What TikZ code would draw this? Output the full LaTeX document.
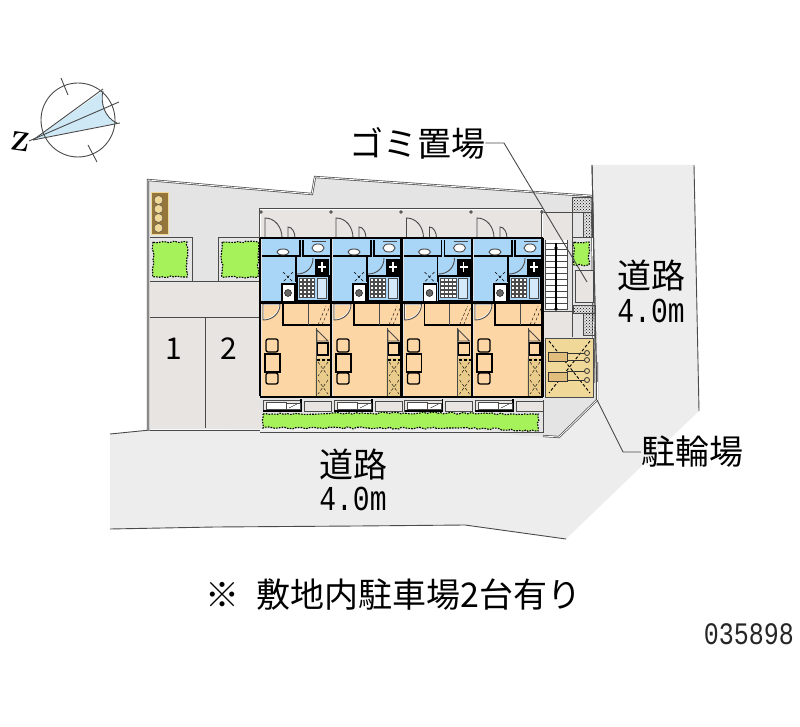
\documentclass[tikz,border=0pt]{standalone}
\usepackage{fontspec}
\newfontfamily\jpfont{Noto Sans CJK JP}
\newfontfamily\numfont{Liberation Mono}
\usetikzlibrary{patterns,decorations.pathmorphing}
\definecolor{roadgrey}{HTML}{EDEDED}
\definecolor{yardgrey}{HTML}{E4E4E4}
\definecolor{floorgrey}{HTML}{E7E4E1}
\definecolor{wetblue}{HTML}{A9D5F6}
\definecolor{roomorange}{HTML}{FDD6A6}
\definecolor{racktan}{HTML}{F0D898}
\definecolor{rackbrown}{HTML}{96753A}
\definecolor{plantgreen}{HTML}{A6F25A}
\definecolor{comparea}{HTML}{CFE8F6}
\definecolor{linegrey}{HTML}{4A4A4A}
\tikzset{
	sitewall/.style={draw=linegrey,line width=0.7pt,double=white,double distance=0.8pt},
	thinline/.style={draw=linegrey,line width=0.9pt},
	wall/.style={draw=black,line width=2.6pt},
	inwall/.style={draw=black,line width=1.3pt},
	planting/.style={fill=plantgreen,draw=black,line width=1.1pt,dash pattern=on 1.6pt off 1.2pt,decorate,decoration={random steps,segment length=3pt,amplitude=1pt}},
	gravel/.style={pattern=crosshatch dots,pattern color=black,draw=linegrey,line width=0.5pt},
	labeltext/.style={font=\jpfont\fontsize{34}{34}\selectfont,inner sep=0pt},
	widthtext/.style={font=\numfont\fontsize{28}{28}\selectfont,inner sep=0pt},
}
\begin{document}
\begin{tikzpicture}[x=1pt,y=-1pt]
	\useasboundingbox (0,0) rectangle (800,727);
	\fill[roadgrey] (592,165) -- (694,165) -- (699,411) -- (566,539) -- (465,525) -- (357,526) -- (215,527) -- (110,529) -- (110,434) -- (150,430) -- (473,429) -- (520,436) -- (560,437) -- (597,402) -- cycle;
	\draw[thinline] (592,165) -- (597,400);
	\draw[thinline] (694,165) -- (699,411);
	\draw[thinline] (110,434) -- (150,430);
	\draw[thinline] (110,529) -- (215,527) -- (357,526) -- (465,525) -- (566,539);
	\fill[yardgrey] (149,179) -- (312,194) -- (315,177) -- (592,196) -- (596,400) -- (559,437) -- (520,436) -- (473,429) -- (149,429) -- cycle;
	\fill[floorgrey] (150,282) rectangle (260,428);
	\fill[floorgrey] (260,209) rectangle (544,238);
	\draw[sitewall] (148,430) -- (148,180) -- (312,194) -- (315,177) -- (592,196) -- (594,383);
	\draw[sitewall] (597,362) -- (597,400) -- (559,437) -- (543,436);
	\draw[thinline] (150,430) -- (260,430);
	\draw[thinline] (150,281) -- (260,281);
	\draw[thinline] (150,317) -- (260,317);
	\draw[thinline] (205,317) -- (205,428);
	\draw[sitewall] (260,238) -- (260,209) -- (542,209) -- (542,238);
	\draw[thinline] (260,432) -- (543,432) -- (543,400);
	\foreach \px in {261,331,401,471,542}
		\draw[thinline,fill=white] (\px,212) circle (1.3);
	\draw[racktan,fill=rackbrown,line width=1pt] (151,193) rectangle (168,235);
	\foreach \py in {200,209,218,228}
		\draw[black!70,fill=racktan] (158.5,\py) circle (4.4);
	\draw[thinline] (150,237) -- (192,237) -- (192,282);
	\draw[thinline] (218,282) -- (218,237) -- (260,237);
	\draw[planting] (153,242) rectangle (187,277);
	\draw[planting] (222,242) rectangle (258,277);
	\foreach \ux in {260,331,401.5,472}
	{
		\begin{scope}[shift={(\ux,0)}]
			\fill[wetblue] (2,239) rectangle (70,302);
			\fill[roomorange] (2,303) rectangle (70,396);
			\fill[racktan!85!brown] (55,358) rectangle (70,396);
			\draw[thinline] (5,238) -- (5,218) .. controls (15,218) and (22,227) .. (22,238);
			\draw[thinline] (28,238) -- (28,227) .. controls (32,227) and (35,232) .. (35,238);
			\draw[inwall] (2,256) -- (40,256) -- (40,240);
			\draw[inwall] (43,240) -- (43,256) -- (70,256);
			\draw[thinline] (52,241) -- (66,241);
			\draw[thinline,fill=white] (58,248) ellipse (6 and 4);
			\draw[thinline,fill=white] (23,252) ellipse (6 and 3);
			\draw[inwall] (36,256) -- (36,282);
			\draw[thinline] (37,274) .. controls (46,274) and (53,268) .. (53,258);
			\fill[black] (55,259) rectangle (69,275);
			\draw[white,line width=1.2pt] (58,267) -- (66,267);
			\draw[white,line width=1.2pt] (62,262) -- (62,272);
			\draw[black,densely dashed] (23,272) -- (33,282);
			\draw[black,densely dashed] (33,272) -- (23,282);
			\draw[inwall,fill=white] (22,284) rectangle (35,302);
			\draw[black,fill=black!60] (28,293) circle (3.5);
			\draw[inwall] (37,276) rectangle (69,301);
			\foreach \gx in {39,43,47,51}
				\foreach \gy in {278,282,286,290,294}
					\draw[black!70,fill=white,line width=0.3pt] (\gx,\gy) rectangle ++(3.4,3.4);
			\draw[thinline,fill=wetblue!50] (57,278) rectangle (66,298);
			\draw[inwall] (23,304) -- (23,325) -- (70,325);
			\draw[thinline] (48,304) -- (48,325);
			\draw[thinline,fill=white] (3,320) .. controls (13,320) and (20,313) .. (20,304) -- (3,304) -- cycle;
			\fill[roomorange] (4,319) .. controls (12,318) and (19,312) .. (19,305) -- (4,305) -- cycle;
			\draw[black,densely dashed] (58,325) -- (66,306);
			\draw[black,densely dashed] (62,325) -- (70,306);
			\draw[thinline] (57,330) -- (68,341) -- (57,341) -- cycle;
			\draw[inwall] (57,343) rectangle (68,355);
			\draw[inwall,densely dashed] (57,360) -- (70,360);
			\foreach \zy in {362,380}
			{
				\draw[black,densely dashed] (58,\zy) -- (68,\zy+14);
				\draw[black,densely dashed] (68,\zy) -- (58,\zy+14);
			}
			\draw[thinline] (56,328) -- (56,396);
			\draw[inwall,rounded corners=2pt] (6,339) rectangle (18,352);
			\draw[inwall,fill=roomorange] (5,354) rectangle (20,372);
			\draw[inwall,rounded corners=2pt] (6,373) rectangle (18,384);
			\draw[wall] (0,238) -- (0,396);
			\draw[wall] (0,238) -- (71,238);
			\draw[wall] (0,302.5) -- (71,302.5);
			\draw[wall] (0,397) -- (71,397);
			\draw[thinline,fill=floorgrey] (3,400) rectangle (41,411);
			\draw[thinline,fill=floorgrey] (44,401) rectangle (71,411);
			\draw[inwall] (3,411) -- (41,411) -- (41,399);
			\draw[thinline,fill=white] (6,402) rectangle (26,409);
			\draw[thinline,fill=white] (26,403) rectangle (40,409);
			\draw[black] (29,408) -- (37,404);
		\end{scope}
	}
	\draw[wall] (542.5,238) -- (542.5,397);
	\draw[planting] (263,414) -- (420,413) -- (538,414) -- (538,431) -- (473,428) -- (263,428) -- cycle;
	\fill[floorgrey] (544,212) rectangle (572,240);
	\draw[thinline] (544,212) -- (572,212) -- (572,337);
	\draw[gravel] (572,197) rectangle (592,212);
	\draw[gravel] (583,212) rectangle (592,237);
	\draw[thinline] (572,237) -- (593,237);
	\draw[planting] (574,242) rectangle (589,265);
	\draw[thinline,fill=floorgrey] (575,270) rectangle (593,302);
	\draw[gravel] (573,305) rectangle (595,313);
	\draw[gravel] (583,313) rectangle (595,335);
	\fill[white] (545,240) rectangle (567,310);
	\foreach \ry in {243,249,255,261,267,273,279,285,291,297,303,309}
		\draw[linegrey] (545,\ry) -- (567,\ry);
	\draw[black,line width=1.5pt] (556,243) -- (556,309);
	\draw[thinline] (545,240) -- (545,310);
	\draw[thinline] (567,240) -- (567,310);
	\fill[black] (556,309) circle (1.8);
	\fill[black] (556,248) circle (1.8);
	\fill[floorgrey] (544,311) rectangle (571,337);
	\draw[thinline] (544,311) -- (572,311);
	\draw[draw=linegrey,fill=racktan] (545,338) rectangle (593,397);
	\draw[black,line width=0.9pt,densely dashed] (549,341) -- (590,393);
	\draw[black,line width=0.9pt,densely dashed] (590,341) -- (549,393);
	\draw[black!80,fill=racktan!70!brown] (548,352) rectangle (567,361);
	\draw[black!80,fill=racktan!70!brown] (548,372) rectangle (567,381);
	\foreach \by in {353,360,371,380}
	{
		\draw[black!80,line width=0.8pt] (567,\by) -- (585,\by);
		\draw[black!80,line width=0.8pt,fill=racktan] (587,\by) circle (2.5);
	}
	\draw[thinline] (592,165) -- (597,400);
	\draw[sitewall] (597,382) -- (597,400);

	\fill[comparea] (33,140) -- (103,91) .. controls (100,103) and (105,118) .. (117,123) -- cycle;
	\draw[thinline] (78,120) circle (37);
	\draw[thinline] (103,91) .. controls (100,103) and (105,118) .. (117,123);
	\draw[thinline] (33,140) -- (103,89);
	\draw[thinline] (33,140) -- (120,123);
	\draw[thinline] (29,141) -- (119,102);
	\draw[thinline] (61,78) -- (68,95);
	\draw[thinline] (88,145) -- (97,162);
	\node[font=\bfseries\fontsize{27}{27}\selectfont,rotate=-8,inner sep=0pt] (northmark) at (20,142) {Z};

	\node[labeltext,anchor=west] (trashlabel) at (349,143) {ゴミ置場};
	\coordinate (trashbend) at (504,143);
	\coordinate (trashend) at (587,282);
	\draw[thinline] (trashlabel.east) -- (trashbend) -- (trashend);
	\node[labeltext,anchor=west] (bikelabel) at (641,452) {駐輪場};
	\coordinate (bikebend) at (623,452);
	\coordinate (bikeend) at (597,400);
	\draw[thinline] (bikelabel.west) -- (bikebend) -- (bikeend);
	\node[labeltext] (eastroad) at (651,276) {道路};
	\node[widthtext] (eastwidth) at (651,311) {\scalebox{1}[1.25]{4.0m}};
	\node[labeltext] (southroad) at (353,465) {道路};
	\node[widthtext] (southwidth) at (353,499) {\scalebox{1}[1.25]{4.0m}};
	\node[font=\jpfont\fontsize{30}{30}\selectfont,inner sep=0pt] (lotone) at (174,349) {1};
	\node[font=\jpfont\fontsize{30}{30}\selectfont,inner sep=0pt] (lottwo) at (229,349) {2};
	\node[labeltext,anchor=west] (parknote) at (205,595) {※\hspace{17pt}敷地内駐車場2台有り};
	\node[font=\numfont\fontsize{25}{25}\selectfont,inner sep=0pt,anchor=east,text=black!85] (plancode) at (794,634) {\scalebox{1}[1.25]{035898}};
\end{tikzpicture}
\end{document}
